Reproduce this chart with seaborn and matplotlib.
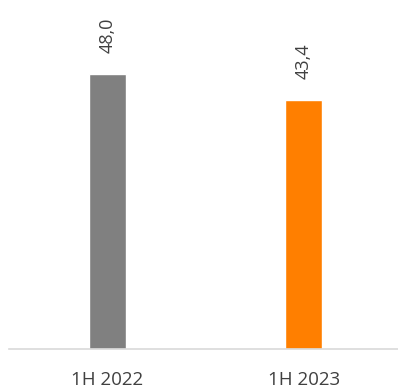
import matplotlib
matplotlib.use("Agg")
import matplotlib.pyplot as plt
import seaborn as sns
import pandas as pd

periods = ["1H 2022", "1H 2023"]
values = [48.0, 43.4]
labels = ["48,0", "43,4"]
colors = ["#808080", "#FF7F00"]

sns.set_style("white")
plt.rcParams["font.family"] = ["Open Sans", "DejaVu Sans"]

df = pd.DataFrame({"period": periods, "value": values})

fig = plt.figure(figsize=(3.98, 3.91), dpi=100)
ax = fig.add_axes([9 / 398, 42 / 391, 393 / 398, 349 / 391])

sns.barplot(data=df, x="period", y="value", hue="period", palette=colors,
            width=0.19, legend=False, ax=ax, saturation=1)

ax.set_xlim(-0.5, 1.5)
ax.set_ylim(0, 60.9)

for i, (v, lab) in enumerate(zip(values, labels)):
    ax.annotate(lab, xy=(i, v), xytext=(0, 15), textcoords="offset points",
                rotation=90, ha="center", va="bottom", fontsize=13,
                color="#404040")

for s in ["top", "right", "left"]:
    ax.spines[s].set_visible(False)
ax.spines["bottom"].set_color("#D9D9D9")
ax.spines["bottom"].set_linewidth(1.2)

ax.set_yticks([])
ax.set_xlabel("")
ax.set_ylabel("")
ax.tick_params(axis="x", length=0, pad=16, labelsize=13.5, labelcolor="#404040")

fig.savefig("out.png", dpi=100)
